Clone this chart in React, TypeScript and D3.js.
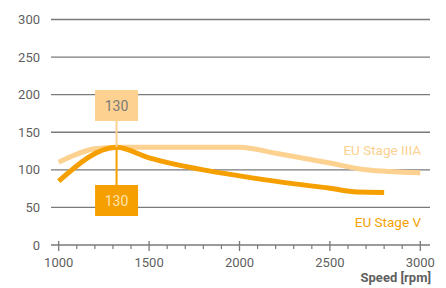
import React from "react";
import * as d3 from "d3";

const yTicks = [0, 50, 100, 150, 200, 250, 300];
const xMajor = [1000, 1500, 2000, 2500, 3000];

const stage3aRpm = [1000, 1200, 1320, 2000, 2200, 2500, 2700, 3000];
const stage3aTorque = [110, 128, 130, 130, 122, 109, 100, 96];

const stage5Rpm = [1000, 1320, 1500, 1800, 2000, 2250, 2500, 2650, 2800];
const stage5Torque = [85, 130, 116, 100, 92, 83, 75.5, 70.5, 70];

const peakRpm = 1320;
const peakValue = 130;

const W = 446;
const H = 288;

export default function App() {
  const x = d3.scaleLinear().domain([1000, 3000]).range([58.7, 420.3]);
  const y = d3.scaleLinear().domain([0, 300]).range([245, 19.5]);

  const light = "#FDD190";
  const dark = "#F5A000";
  const grid = "#7a7a7a";
  const textGray = "#5f5f5f";
  const font = "Roboto, 'DejaVu Sans', sans-serif";

  const line = d3
    .line<[number, number]>()
    .x((d) => x(d[0]))
    .y((d) => y(d[1]))
    .curve(d3.curveMonotoneX);

  const s3 = stage3aRpm.map((r, i) => [r, stage3aTorque[i]] as [number, number]);
  const s5 = stage5Rpm.map((r, i) => [r, stage5Torque[i]] as [number, number]);

  const minor = d3.range(1000, 3001, 100).filter((v) => v % 500 !== 0);

  const px = x(peakRpm);
  const py = y(peakValue);

  return (
    <svg
      width={W}
      height={H}
      style={{ position: "absolute", left: 0, top: 0, background: "#fff" }}
      fontFamily={font}
    >
      {/* grid lines */}
      {yTicks.filter((t) => t > 0).map((t) => (
        <line key={t} x1={51} x2={430} y1={y(t)} y2={y(t)} stroke={grid} strokeWidth={1.3} />
      ))}
      {/* y labels */}
      {yTicks.map((t) => (
        <text key={"yl" + t} x={40} y={y(t) + 4.5} textAnchor="end" fontSize={13} fill={textGray}>
          {t}
        </text>
      ))}

      {/* x axis */}
      <line x1={51} x2={430} y1={y(0)} y2={y(0)} stroke={grid} strokeWidth={1.3} />
      {minor.map((v) => (
        <line key={"mi" + v} x1={x(v)} x2={x(v)} y1={y(0)} y2={y(0) + 4} stroke={grid} strokeWidth={1.2} />
      ))}
      {xMajor.map((v) => (
        <g key={"ma" + v}>
          <line x1={x(v)} x2={x(v)} y1={y(0) - 4} y2={y(0) + 6} stroke={grid} strokeWidth={1.3} />
          <text x={x(v)} y={y(0) + 22} textAnchor="middle" fontSize={13} fill={textGray}>
            {v}
          </text>
        </g>
      ))}
      <text x={431} y={282} textAnchor="end" fontSize={13} fontWeight="bold" fill={textGray}>
        Speed [rpm]
      </text>

      {/* series */}
      <path d={line(s3) || ""} fill="none" stroke={light} strokeWidth={5} strokeLinecap="butt" />
      <path d={line(s5) || ""} fill="none" stroke={dark} strokeWidth={5} strokeLinecap="butt" />

      {/* series labels */}
      <text x={421} y={155} textAnchor="end" fontSize={13.5} fill={light}>
        EU Stage IIIA
      </text>
      <text x={421} y={227} textAnchor="end" fontSize={13.5} fill={dark}>
        EU Stage V
      </text>

      {/* peak annotations */}
      <line x1={px} x2={px} y1={121} y2={py} stroke={light} strokeWidth={2} />
      <rect x={px - 21.5} y={90} width={43} height={31} fill={light} />
      <text x={px} y={111} textAnchor="middle" fontSize={14} fill="#7a7a7a">
        {peakValue}
      </text>

      <line x1={px} x2={px} y1={py} y2={185} stroke={dark} strokeWidth={2} />
      <rect x={px - 21.5} y={185} width={43} height={31} fill={dark} />
      <text x={px} y={206} textAnchor="middle" fontSize={14} fill="#FFE3B0">
        {peakValue}
      </text>
    </svg>
  );
}
